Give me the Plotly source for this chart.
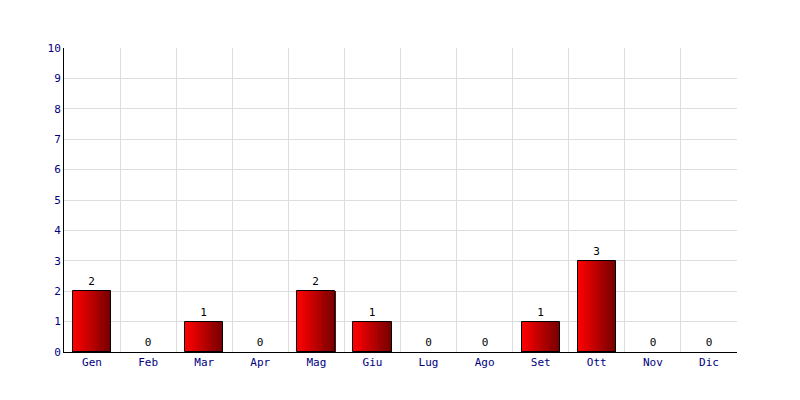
import plotly.graph_objects as go

months = ["Gen", "Feb", "Mar", "Apr", "Mag", "Giu", "Lug", "Ago", "Set", "Ott", "Nov", "Dic"]
values = [2, 0, 1, 0, 2, 1, 0, 0, 1, 3, 0, 0]

FONT = "DejaVu Sans Mono"
BAR_W = 0.68
N = 24
c0 = (255, 0, 0)
c1 = (120, 0, 0)

fig = go.Figure()
for i in range(N):
    t = i / (N - 1)
    col = "rgb(%d,%d,%d)" % tuple(round(a + (b - a) * t) for a, b in zip(c0, c1))
    fig.add_trace(go.Bar(
        x=months, y=values, width=BAR_W / N * 1.05,
        offset=-BAR_W / 2 + i * BAR_W / N,
        marker=dict(color=col, line=dict(width=0)),
        hoverinfo="skip", showlegend=False,
    ))
fig.add_trace(go.Bar(
    x=months, y=values, width=BAR_W, offset=-BAR_W / 2,
    marker=dict(color="rgba(0,0,0,0)",
                line=dict(color="black", width=[1 if v > 0 else 0 for v in values])),
    text=[str(v) for v in values], textposition="outside",
    textfont=dict(family=FONT, size=11, color="black"),
    cliponaxis=False, showlegend=False,
))

fig.update_layout(
    width=800, height=400,
    margin=dict(l=56, r=71, t=40, b=56),
    paper_bgcolor="white", plot_bgcolor="white",
    barmode="overlay", bargap=0,
    font=dict(family=FONT, size=11, color="#000080"),
    showlegend=False,
)
fig.update_xaxes(
    type="category", tickson="boundaries", showgrid=True, gridcolor="#dddddd", gridwidth=1,
    showline=True, linecolor="black", linewidth=1, ticks="",
    tickfont=dict(family=FONT, size=11, color="#000080"),
    range=[-0.5, 11.5], fixedrange=True,
)
fig.update_yaxes(
    range=[0, 10], dtick=1, showgrid=True, gridcolor="#dddddd", gridwidth=1,
    showline=True, linecolor="black", linewidth=1, ticks="", zeroline=False,
    tickfont=dict(family=FONT, size=11, color="#000080"),
    fixedrange=True,
)

fig.write_html("out.html")
